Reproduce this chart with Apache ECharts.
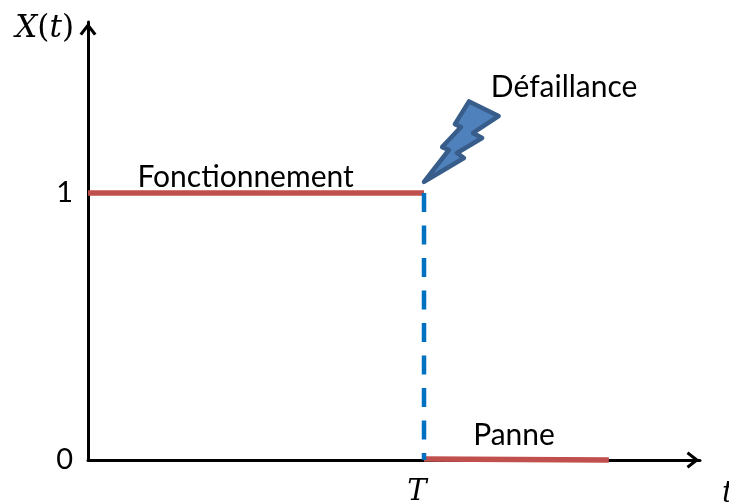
<!DOCTYPE html>
<html>
<head>
<meta charset="utf-8">
<style>
  html, body { margin: 0; padding: 0; background: #fff; overflow: hidden; }
  #chart { width: 729px; height: 504px; }
</style>
<script src="https://cdn.jsdelivr.net/npm/echarts@6/dist/echarts.min.js"></script>
</head>
<body>
<div id="chart"></div>
<script>
// etats du systeme, en unites des axes (T = 1)
var fonctionnement = [[0, 1], [1, 1]];
var transition = [[1, 1], [1, 0]];
var panne = [[1, 0.004], [1.55, 0]];
var eclair = [
    [1.134, 1.343], [1.222, 1.288], [1.146, 1.225], [1.173, 1.206],
    [1.098, 1.150], [1.119, 1.131], [1.000, 1.042], [1.074, 1.161],
    [1.054, 1.172], [1.110, 1.247], [1.092, 1.258]
];
var annotations = [
    {name: 'Fonctionnement', value: [0.469, 1.060]},
    {name: 'Défaillance', value: [1.417, 1.396]},
    {name: 'Panne', value: [1.268, 0.094]}
];
var xTicks = [1];
var yTicks = [0, 1];
var xTickLabels = {1: 'T'};

var textFont = 'Lato';
var mathFont = '"DejaVu Serif"';
var chevron = 'path://M0 13 L10 0 L20 13 L17 15 L10 6 L3 15 Z';

var myChart = echarts.init(document.getElementById('chart'));

myChart.setOption({
    animation: false,
    grid: {left: 88, top: 22, width: 612, height: 438, outerBoundsMode: 'none'},
    xAxis: {
        type: 'value',
        min: 0,
        max: 1.8214,
        name: 't',
        nameLocation: 'end',
        nameGap: 0,
        nameTextStyle: {
            fontFamily: mathFont, fontStyle: 'italic', fontSize: 29, color: '#000',
            align: 'left', verticalAlign: 'top', padding: [20, 0, 0, 22]
        },
        splitLine: {show: false},
        axisTick: {show: false},
        axisLine: {
            onZero: false,
            symbol: ['none', chevron],
            symbolSize: [17, 16],
            symbolOffset: [0, -7],
            lineStyle: {color: '#000', width: 3}
        },
        axisLabel: {
            customValues: xTicks,
            formatter: function (v) { return xTickLabels[v]; },
            fontFamily: mathFont, fontStyle: 'italic', fontSize: 29, color: '#000',
            margin: 18, padding: [0, 14, 0, 0]
        }
    },
    yAxis: {
        type: 'value',
        min: 0,
        max: 1.6404,
        name: '{i|X}{r|(}{i|t}{r|)}',
        nameLocation: 'end',
        nameGap: 0,
        nameTextStyle: {
            align: 'right', verticalAlign: 'middle', padding: [0, 14, -14, 0],
            rich: {
                i: {fontFamily: mathFont, fontStyle: 'italic', fontSize: 31, color: '#000'},
                r: {fontFamily: mathFont, fontSize: 31, color: '#000'}
            }
        },
        splitLine: {show: false},
        axisTick: {show: false},
        axisLine: {
            onZero: false,
            symbol: ['none', chevron],
            symbolSize: [17, 16],
            symbolOffset: [0, -7],
            lineStyle: {color: '#000', width: 3}
        },
        axisLabel: {
            customValues: yTicks,
            fontFamily: textFont, fontSize: 29, color: '#000',
            margin: 15
        }
    },
    series: [
        {
            type: 'line', name: 'Fonctionnement', data: fonctionnement,
            showSymbol: false, silent: true, clip: false,
            lineStyle: {color: '#C0504D', width: 5.5, cap: 'butt'}
        },
        {
            type: 'line', name: 'Panne', data: panne,
            showSymbol: false, silent: true, clip: false,
            lineStyle: {color: '#C0504D', width: 5.5, cap: 'butt'}
        },
        {
            type: 'line', name: 'Transition', data: transition,
            showSymbol: false, silent: true, clip: false, z: 3,
            lineStyle: {color: '#0070C0', width: 4.5, type: [19, 13.5], cap: 'butt'}
        },
        {
            // eclair de la defaillance
            type: 'custom', name: 'Eclair', silent: true, clip: false, z: 4,
            data: [0],
            renderItem: function (params, api) {
                return {
                    type: 'polygon',
                    shape: {points: eclair.map(function (p) { return api.coord(p); })},
                    style: {fill: '#4F81BD', stroke: '#385D8A', lineWidth: 4.5, lineJoin: 'round'}
                };
            }
        },
        {
            type: 'scatter', name: 'Annotations', data: annotations,
            symbolSize: 0, silent: true, clip: false,
            itemStyle: {opacity: 1},
            label: {
                show: true, position: 'inside',
                formatter: '{b}',
                fontFamily: textFont, fontSize: 30, color: '#000', opacity: 1
            }
        }
    ]
});
</script>
</body>
</html>
